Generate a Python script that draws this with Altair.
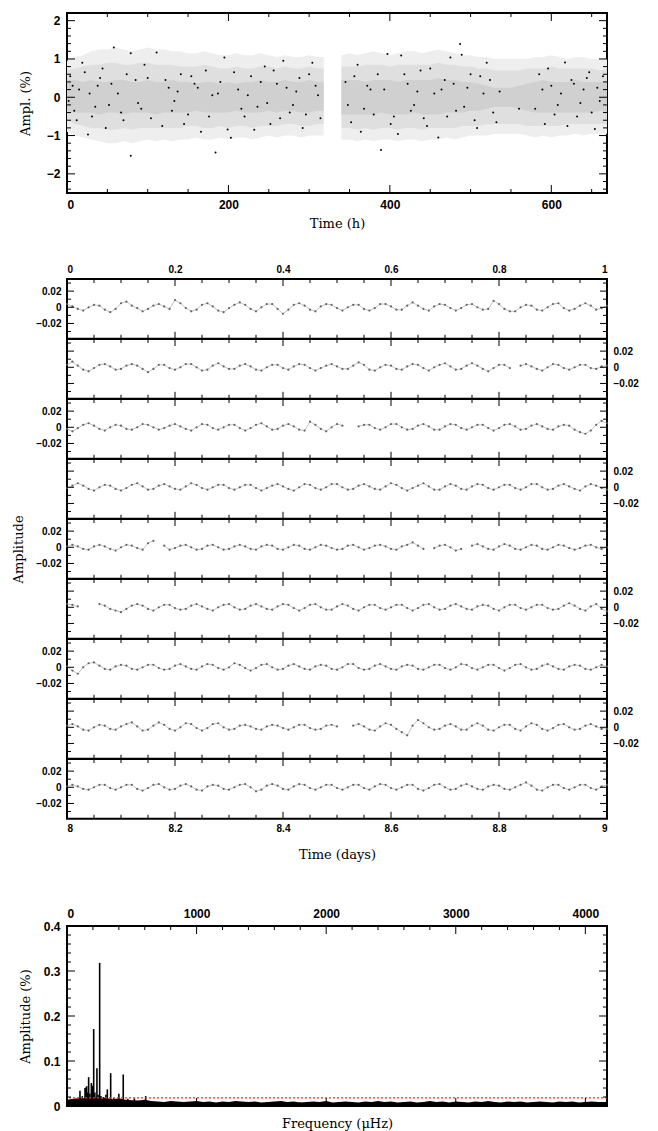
import altair as alt
import pandas as pd

# ---------------- top panel: light curve (hours) ----------------
env_time = list(range(0, 320, 10)) + [318, 329] + list(range(340, 680, 10))
outer_hi = [0.95, 1.05, 1.1, 1.2, 1.25, 1.25, 1.3, 1.25, 1.2, 1.25,
            1.3, 1.25, 1.25, 1.2, 1.2, 1.15, 1.15, 1.2, 1.15, 1.1,
            1.1, 1.15, 1.1, 1.1, 1.15, 1.1, 1.05, 1.1, 1.05, 1.05,
            1.1, 1.05, 1.05, None,
            1.1, 1.15, 1.1, 1.15, 1.2, 1.15, 1.1, 1.15, 1.2, 1.2,
            1.15, 1.2, 1.25, 1.2, 1.15, 1.1, 1.1, 1.05, 1.05, 1.0,
            1.0, 1.0, 1.0, 1.0, 1.05, 1.05, 1.1, 1.05, 1.0, 1.05,
            1.05, 1.0, 1.0, 1.0]
outer_lo = [-0.9, -1.0, -1.05, -1.1, -1.15, -1.2, -1.2, -1.15, -1.2, -1.15,
            -1.1, -1.15, -1.1, -1.15, -1.1, -1.1, -1.05, -1.1, -1.1, -1.05,
            -1.1, -1.05, -1.05, -1.1, -1.05, -1.0, -1.05, -1.0, -1.0, -1.05,
            -1.0, -1.0, -1.0, None,
            -1.1, -1.1, -1.15, -1.1, -1.15, -1.1, -1.1, -1.15, -1.1, -1.1,
            -1.15, -1.1, -1.1, -1.05, -1.1, -1.05, -1.0, -1.0, -1.0, -0.95,
            -0.95, -0.95, -0.95, -1.0, -1.05, -1.0, -1.05, -1.0, -1.0, -0.95,
            -1.0, -0.95, -0.95, -0.95]
mid_hi = [0.7, 0.75, 0.8, 0.85, 0.85, 0.9, 0.9, 0.85, 0.85, 0.9,
          0.9, 0.85, 0.85, 0.85, 0.8, 0.8, 0.8, 0.85, 0.8, 0.75,
          0.75, 0.8, 0.75, 0.75, 0.8, 0.8, 0.75, 0.8, 0.75, 0.75,
          0.8, 0.75, 0.75, None,
          0.8, 0.8, 0.8, 0.85, 0.85, 0.85, 0.8, 0.85, 0.85, 0.85,
          0.85, 0.85, 0.9, 0.85, 0.85, 0.8, 0.8, 0.75, 0.75, 0.7,
          0.7, 0.7, 0.7, 0.75, 0.75, 0.75, 0.8, 0.75, 0.75, 0.75,
          0.75, 0.75, 0.7, 0.75]
mid_lo = [-0.6, -0.7, -0.75, -0.8, -0.8, -0.85, -0.85, -0.8, -0.85, -0.8,
          -0.8, -0.8, -0.8, -0.8, -0.8, -0.75, -0.75, -0.8, -0.8, -0.75,
          -0.8, -0.75, -0.75, -0.8, -0.75, -0.75, -0.75, -0.7, -0.7, -0.75,
          -0.75, -0.7, -0.7, None,
          -0.8, -0.8, -0.85, -0.8, -0.85, -0.8, -0.8, -0.85, -0.8, -0.8,
          -0.85, -0.8, -0.8, -0.8, -0.8, -0.75, -0.75, -0.75, -0.7, -0.7,
          -0.7, -0.7, -0.7, -0.75, -0.75, -0.75, -0.75, -0.75, -0.7, -0.7,
          -0.7, -0.7, -0.7, -0.7]
in_hi = [0.45, 0.45, 0.4, 0.45, 0.4, 0.4, 0.45, 0.45, 0.4, 0.4,
         0.45, 0.4, 0.4, 0.45, 0.4, 0.4, 0.35, 0.4, 0.4, 0.35,
         0.4, 0.35, 0.4, 0.4, 0.45, 0.4, 0.4, 0.45, 0.4, 0.4,
         0.45, 0.4, 0.4, None,
         0.45, 0.45, 0.45, 0.4, 0.45, 0.45, 0.45, 0.4, 0.45, 0.45,
         0.45, 0.45, 0.5, 0.45, 0.45, 0.4, 0.4, 0.35, 0.3, 0.25,
         0.25, 0.25, 0.3, 0.35, 0.4, 0.45, 0.4, 0.4, 0.4, 0.45,
         0.4, 0.4, 0.4, 0.4]
in_lo = [-0.35, -0.4, -0.4, -0.4, -0.45, -0.4, -0.4, -0.45, -0.4, -0.4,
         -0.4, -0.45, -0.4, -0.4, -0.4, -0.4, -0.35, -0.4, -0.4, -0.4,
         -0.4, -0.35, -0.4, -0.4, -0.4, -0.35, -0.4, -0.35, -0.35, -0.4,
         -0.4, -0.35, -0.35, None,
         -0.45, -0.45, -0.45, -0.45, -0.45, -0.4, -0.45, -0.45, -0.45, -0.4,
         -0.45, -0.45, -0.45, -0.4, -0.4, -0.4, -0.35, -0.35, -0.3, -0.25,
         -0.25, -0.25, -0.3, -0.35, -0.4, -0.4, -0.4, -0.4, -0.4, -0.4,
         -0.4, -0.4, -0.35, -0.4]

dot_t = [4, 9, 15, 22, 26, 31, 38, 44, 52, 58,
         63, 70, 79, 79, 85, 92, 100, 111, 118, 126,
         133, 141, 150, 158, 166, 172, 180, 184, 190, 195,
         199, 203, 212, 220, 228, 236, 245, 252, 260, 268,
         276, 284, 292, 300, 308, 314, 345, 352, 360, 368,
         376, 385, 389, 397, 405, 410, 414, 422, 430, 438,
         446, 455, 460, 468, 475, 482, 487, 489, 496, 505,
         512, 520, 528, 536, 560, 585, 592, 600, 608, 617,
         625, 632, 640, 647, 654, 660,
         2, 7, 12, 19, 28, 35, 41, 48, 55, 67,
         74, 88, 96, 104, 122, 130, 137, 145, 154, 162,
         176, 187, 207, 216, 224, 232, 240, 248, 256, 264,
         272, 280, 288, 296, 304, 311, 348, 356, 364, 372,
         380, 393, 401, 418, 426, 434, 442, 450, 464, 471,
         479, 492, 500, 508, 516, 524, 532, 580, 589, 596,
         604, 612, 620, 628, 636, 644, 650, 657, 664]
dot_y = [0.55, -0.35, 0.2, 0.65, -0.97, -0.5, 0.3, 0.75, -0.2, 1.30,
         0.1, -0.6, 1.15, -1.53, 0.45, -0.3, 0.5, 1.17, -0.75, 0.25,
         -0.1, 0.6, -0.45, 0.35, -0.9, 0.7, 0.05, -1.44, 0.4, 1.04,
         -0.84, -1.06, 0.2, -0.5, 0.55, -0.25, 0.8, -0.7, 0.35, 0.95,
         -0.4, 0.15, -0.8, 0.6, 0.3, -0.55, 0.4, -0.65, 0.85, -0.3,
         0.2, 0.6, -1.38, 1.13, -0.5, -0.96, 1.09, 0.35, -0.2, 0.7,
         -0.75, 0.1, -1.05, 0.45, 1.04, -0.35, 1.39, 1.11, 0.25, -0.6,
         0.55, 0.9, -0.4, 0.15, -0.3, 0.6, -0.7, 0.3, -0.2, 0.91,
         0.45, -0.5, 0.2, 0.65, -0.83, -0.1,
         -0.1, 0.3, -0.6, 0.9, 0.1, -0.25, 0.5, -0.8, 0.35, -0.4,
         0.6, -0.15, 0.85, -0.55, 0.45, -0.35, 0.15, -0.7, 0.55, 0.25,
         -0.5, 0.1, 0.65, -0.3, 0.05, -0.85, 0.4, -0.15, 0.7, -0.55,
         0.25, -0.2, 0.5, -0.45, 0.9, 0.05, -0.2, 0.55, -0.9, 0.3,
         -0.45, 0.2, -0.7, 0.6, -0.35, 0.15, -0.55, 0.75, 0.2, -0.5,
         0.35, -0.25, 0.6, -0.8, 0.1, 0.45, -0.65, -0.3, 0.2, 0.75,
         -0.45, 0.1, -0.75, 0.35, -0.15, 0.5, -0.4, 0.25, 0.55]

# ---------------- middle panels: one day per strip (units of 0.001) ----------------
strip_1 = [4, 1, -2, -4, 0, 3, 2, -3, -6, -2, 5, 7, 2, -1, -5, -2, 2, 4, 1, -2,
           9, 5, -1, -5, -3, 3, 5, 1, -4, -6, -1, 3, 6, 3, -2, -5, 0, 4, 4, -2,
           -8, -3, 3, 5, 2, -3, -5, 1, 4, 3, -1, -4, 0, 3, 3, -2, -4, -1, 4, 4,
           1, -3, -3, 2, 6, 2, -2, -4, 1, 4, 3, -1, -4, -1, 3, 4, 0, -3, -2, 8,
           4, -2, -5, -5, 0, 3, 2, -3, -4, 0, 4, 5, -1, -4, -2, 2, 5, 2, -3, -1, 2]
strip_2 = [3, 7, 2, -3, -5, -1, 3, 4, 1, -3, -2, 2, 4, 2, -2, -6, -2, 3, 3, -1,
           -3, 0, 4, 4, 0, -4, -3, 2, 5, 1, -2, -2, 2, 4, 1, -3, -4, 0, 3, 3,
           -1, -3, 1, 4, 3, -1, -4, -1, 2, 4, 1, -2, -2, 2, 6, 3, -3, -4, 0, 3,
           2, -2, -3, 1, 4, 3, -1, -4, 0, 3, 5, 1, -3, -2, 2, 5, 2, -2, -5, -1,
           3, 3, -1, None, 2, 4, 1, -2, -4, 0, 4, 3, -1, -3, 0, 3, 3, -1, -2, 1, 2]
strip_3 = [-2, -5, -1, 3, 5, 2, -2, -4, 0, 3, 2, -2, -3, 0, 4, 3, 0, -3, -1, 2,
           4, 1, -2, -4, 0, 4, 3, -1, -3, 0, 3, 3, -1, -4, -1, 3, 5, 1, -3, -2,
           2, 4, 1, -3, -4, 7, 3, -2, -5, 0, 4, 2, None, None, 1, 3, 3, -1, -3, 0,
           4, 4, 0, -3, -2, 2, 4, 1, -3, -3, 1, 4, 3, -1, -3, 0, 3, 3, -1, -4,
           -1, 3, 4, 1, -3, -2, 2, 4, 1, -2, -3, 1, 3, 2, -3, -6, -8, -4, 3, 8, 5]
strip_4 = [-1, 2, 5, 2, -2, -4, 0, 3, 2, -2, -4, -1, 3, 5, 1, -3, -2, 2, 4, 1,
           -2, -3, 1, 5, 3, -1, -3, 0, 3, 3, -1, -3, 0, 3, 3, -1, -4, -1, 2, 4,
           1, -2, -4, 0, 4, 3, -1, -3, 0, 4, 4, 0, -3, -2, 2, 4, 1, -2, -3, 1,
           5, 3, -1, -4, -1, 2, 5, 1, -3, -3, 1, 4, 2, -2, -3, 1, 4, 3, -1, -3,
           0, 3, 3, -1, -3, 0, 4, 4, 0, -3, -2, 2, 4, 1, -2, -4, 1, 4, 2, -1, -3]
strip_5 = [1, 3, 1, -2, -3, 1, 3, 1, -2, -4, 0, 3, 2, -1, -3, 5, 8, None, 2, -3,
           -1, 2, 3, 0, -3, -2, 2, 3, 0, -3, -2, 1, 3, 1, -2, -3, 1, 3, 2, -2,
           -3, 0, 3, 2, -2, -3, 0, 3, 2, -1, -3, -2, 2, 3, 0, -3, -1, 2, 3, 1,
           -2, -3, 1, 3, 6, 2, -2, None, -1, 2, 3, 0, -4, -2, None, 2, 4, 1, -2, -3,
           1, 4, 2, -2, -3, 0, 3, 2, -2, -3, 0, 3, 2, -1, -3, -1, 2, 3, 0, -2, 0]
strip_6 = [4, 3, 1, None, None, None, 4, 2, -2, -4, -6, -2, 2, 4, 2, -2, -4, 0, 3, 3,
           -1, -3, -2, 2, 4, 1, -2, -4, 0, 3, 4, 0, -3, -2, 2, 4, 1, -2, -3, 1,
           4, 3, -1, -4, -1, 3, 4, 0, -3, -3, 1, 4, 2, -2, -4, 0, 3, 3, -1, -3,
           0, 3, 3, -1, -4, -1, 3, 4, 0, -3, -2, 2, 4, 1, -2, -3, 1, 3, 2, -2,
           -4, 0, 3, 3, -1, -3, 0, 3, 3, -1, -3, -2, 2, 5, 2, -2, -4, 1, 4, -2, -5]
strip_7 = [1, -4, -8, 0, 5, 6, 2, -2, -3, 1, 3, 2, -2, -3, 0, 3, 3, -1, -3, -2,
           2, 4, 1, -2, -3, 1, 4, 3, -1, -3, 0, 5, 3, -1, -4, -1, 3, 4, 0, -3,
           -2, 2, 4, 1, -2, -3, 1, 3, 2, -2, -3, 0, 4, 4, -1, -3, -2, 2, 4, 1,
           -2, -3, 1, 3, 2, -2, -3, 0, 3, 3, -1, -3, 0, 4, 3, -1, -3, 0, 3, 3,
           -1, -4, -1, 3, 4, 0, -3, -2, 2, 4, 1, -2, -3, 1, 3, 2, -2, -3, 0, 3, 1]
strip_8 = [2, 4, 1, -3, -4, 0, 3, 2, -2, -3, 1, 4, 6, 1, -4, -3, 2, 6, 3, -2,
           -4, 0, 5, 4, -1, -4, -1, 4, 5, 0, -3, -2, 2, 3, 1, -2, -3, 1, 3, 2,
           -1, -3, 0, 3, 3, -1, -3, -2, 2, 3, 1, None, None, 2, 4, 1, -3, -4, 1, 5,
           3, -2, -6, -10, 2, 9, 5, 0, -3, -2, 2, 4, 1, -3, -3, 2, 5, 2, -3, -4,
           0, 3, 3, -2, -4, 1, 5, 3, -2, -4, -1, 3, 4, 0, -3, -2, 2, 4, 1, -2, -2]
strip_9 = [1, 3, 1, -2, -3, 0, 3, 3, -1, -3, 0, 3, 3, -2, -4, -1, 3, 4, 0, -3,
           -2, 2, 4, 1, -3, -4, 1, 3, 2, -2, -3, 0, 3, 4, 0, -5, -3, 2, 4, 2,
           -2, -3, 1, 4, 3, -1, -3, 0, 3, 3, -1, -3, 0, 3, 3, -1, -3, 1, 4, 3,
           -1, -3, 0, 3, 3, -2, -4, -1, 3, 4, 0, -3, -2, 2, 4, 1, -2, -3, 1, 3,
           2, -2, -3, 0, 3, 6, 2, -3, -4, 0, 3, 3, -1, -3, 0, 3, 3, -1, -3, 1, 3]
strips = [strip_1, strip_2, strip_3, strip_4, strip_5, strip_6, strip_7, strip_8, strip_9]

# ---------------- bottom panel: amplitude spectrum ----------------
noise_amp = [0.014, 0.016, 0.018, 0.017, 0.019, 0.016, 0.018, 0.015, 0.017, 0.014,
             0.013, 0.012, 0.014, 0.011, 0.010, 0.009, 0.011, 0.010, 0.009, 0.010,
             0.011, 0.009, 0.010, 0.008, 0.010, 0.009, 0.011, 0.010, 0.009, 0.010,
             0.008, 0.009, 0.010, 0.011, 0.009, 0.010, 0.008, 0.009, 0.010, 0.009,
             0.011, 0.008, 0.009, 0.010, 0.009, 0.008, 0.010, 0.009, 0.011, 0.009,
             0.010, 0.008, 0.009, 0.010, 0.008, 0.009, 0.011, 0.009, 0.010, 0.008,
             0.010, 0.009, 0.008, 0.010, 0.009, 0.011, 0.009, 0.008, 0.010, 0.009,
             0.010, 0.008, 0.009, 0.010, 0.009, 0.008, 0.010, 0.009, 0.010, 0.008,
             0.009, 0.010, 0.009, 0.009, 0.010]
peak_freq = [100, 118, 139, 146, 152, 160, 167, 176, 188, 197,
             206, 215, 231, 240, 252, 262, 283, 300, 311, 337,
             360, 400, 434, 470, 520, 607]
peak_amp = [0.034, 0.022, 0.040, 0.041, 0.044, 0.030, 0.064, 0.028, 0.051, 0.045,
            0.171, 0.030, 0.084, 0.025, 0.318, 0.022, 0.020, 0.025, 0.037, 0.073,
            0.018, 0.027, 0.070, 0.016, 0.017, 0.022]
threshold = [0.018]

# ---------------- styling ----------------
W = 540
LF = "Liberation Sans"
TF = "DejaVu Serif"
STRIP_H = 59.8


def seg_frame(xs, cols):
    rows, seg = [], 0
    for i, x in enumerate(xs):
        vals = [c[i] for c in cols.values()]
        if any(v is None for v in vals):
            seg += 1
            continue
        r = {"t": x, "seg": seg}
        r.update({k: c[i] for k, c in cols.items()})
        rows.append(r)
    return pd.DataFrame(rows)


def tick_layers(xscale, yscale, H, xmaj, xmin, ymaj, ymin, lmaj, lmin):
    out = []
    for vals, L in ((xmaj, lmaj), (xmin, lmin)):
        d = pd.DataFrame({"t": vals})
        xe = alt.X("t:Q", scale=xscale, axis=None)
        base = alt.Chart(d).mark_rule(color="black", strokeWidth=1)
        out.append(base.encode(x=xe, y=alt.value(0), y2=alt.value(L)))
        out.append(base.encode(x=xe, y=alt.value(H), y2=alt.value(H - L)))
    for vals, L in ((ymaj, lmaj), (ymin, lmin)):
        d = pd.DataFrame({"v": vals})
        ye = alt.Y("v:Q", scale=yscale, axis=None)
        base = alt.Chart(d).mark_rule(color="black", strokeWidth=1)
        out.append(base.encode(y=ye, x=alt.value(0), x2=alt.value(L)))
        out.append(base.encode(y=ye, x=alt.value(W), x2=alt.value(W - L)))
    return out


def ax(**kw):
    base = dict(ticks=False, domain=False, grid=False, labelFont=LF, labelFontWeight="bold",
                labelColor="black", titleFont=TF, titleFontWeight="normal", titleColor="black",
                titleFontSize=13)
    base.update(kw)
    return alt.Axis(**base)


# ---------- top panel ----------
xs_top = alt.Scale(domain=[0, 669], nice=False, zero=False)
ys_top = alt.Scale(domain=[-2.5, 2.2], nice=False, zero=False)
env = seg_frame(env_time, {"olo": outer_lo, "ohi": outer_hi, "mlo": mid_lo,
                           "mhi": mid_hi, "ilo": in_lo, "ihi": in_hi})
dots = pd.DataFrame({"t": dot_t, "v": dot_y})

top_layers = []
for lo, hi, col, i in (("olo", "ohi", "#eeeeee", 0), ("mlo", "mhi", "#dfdfdf", 1), ("ilo", "ihi", "#d0d0d0", 2)):
    xa = ax(orient="bottom", values=[0, 200, 400, 600], format="d", labelFontSize=12, labelPadding=6,
            title="Time (h)", titleX=270, titleY=30, titleBaseline="middle") if i == 0 else None
    ya = ax(orient="left", values=[-2, -1, 0, 1, 2], format="d", labelFontSize=12, labelPadding=7,
            title="Ampl. (%)", titleX=-42, titleY=90, titleBaseline="middle", titleAngle=-90) if i == 0 else None
    top_layers.append(
        alt.Chart(env).mark_area(color=col, clip=True).encode(
            x=alt.X("t:Q", scale=xs_top, axis=xa),
            y=alt.Y(f"{lo}:Q", scale=ys_top, axis=ya),
            y2=f"{hi}:Q",
            detail="seg:N",
        )
    )
top_layers.append(
    alt.Chart(dots).mark_circle(color="black", size=4, opacity=1).encode(
        x=alt.X("t:Q", scale=xs_top, axis=None), y=alt.Y("v:Q", scale=ys_top, axis=None))
)
top_layers += tick_layers(
    xs_top, ys_top, 180,
    [200, 400, 600], [v for v in range(50, 669, 50) if v % 200],
    [-2, -1, 0, 1, 2], [round(-2.4 + 0.2 * k, 1) for k in range(23) if abs(round(-2.4 + 0.2 * k, 1)) % 1 > 0.01],
    8, 4)
top = alt.layer(*top_layers).properties(width=W, height=180).resolve_axis(x="independent", y="independent")

# ---------- middle strips ----------
xs_mid = alt.Scale(domain=[0, 1], nice=False, zero=False)
ys_mid = alt.Scale(domain=[-0.039, 0.035], nice=False, zero=False)
mid_y_expr = "datum.value == 0 ? '0' : format(datum.value, '.2f')"
mid_top_expr = "datum.value == 0 ? '0' : datum.value == 1 ? '1' : format(datum.value, '.1f')"
mid_bot_expr = "format(datum.value + 8, '~g')"

strip_charts = []
for k, vals in enumerate(strips):
    tt = [i / 100 for i in range(len(vals))]
    vv = [None if a is None else a / 1000 for a in vals]
    d = seg_frame(tt, {"v": vv})
    if k == 0:
        xa = ax(orient="top", values=[0, 0.2, 0.4, 0.6, 0.8, 1], labelExpr=mid_top_expr,
                labelFontSize=10, labelPadding=5, title=None)
    elif k == 8:
        xa = ax(orient="bottom", values=[0, 0.2, 0.4, 0.6, 0.8, 1], labelExpr=mid_bot_expr,
                labelFontSize=10, labelPadding=5, title="Time (days)", titleX=270, titleY=36,
                titleBaseline="middle")
    else:
        xa = None
    ykw = dict(orient="left" if k % 2 == 0 else "right", values=[-0.02, 0, 0.02], labelExpr=mid_y_expr,
               labelFontSize=10, labelPadding=6)
    if k == 4:
        ykw.update(title="Amplitude", titleX=-49, titleY=STRIP_H / 2, titleBaseline="middle", titleAngle=-90)
    else:
        ykw.update(title=None)
    ya = ax(**ykw)
    line = alt.Chart(d).mark_line(color="#a8a8a8", strokeWidth=0.7).encode(
        x=alt.X("t:Q", scale=xs_mid, axis=xa), y=alt.Y("v:Q", scale=ys_mid, axis=ya), detail="seg:N")
    pts = alt.Chart(d).mark_circle(color="#555555", size=5, opacity=0.9).encode(
        x=alt.X("t:Q", scale=xs_mid, axis=None), y=alt.Y("v:Q", scale=ys_mid, axis=None))
    tl = tick_layers(xs_mid, ys_mid, STRIP_H, [0.2, 0.4, 0.6, 0.8],
                     [0.05, 0.1, 0.15, 0.25, 0.3, 0.35, 0.45, 0.5, 0.55, 0.65, 0.7, 0.75, 0.85, 0.9, 0.95],
                     [-0.02, 0, 0.02], [-0.03, -0.01, 0.01, 0.03], 7, 4)
    strip_charts.append(
        alt.layer(line, pts, *tl).properties(width=W, height=STRIP_H).resolve_axis(x="independent", y="independent"))

# ---------- bottom panel ----------
xs_sp = alt.Scale(domain=[0, 4167], nice=False, zero=False)
ys_sp = alt.Scale(domain=[0, 0.4], nice=False, zero=False)
noise = pd.DataFrame({"t": [50 * i for i in range(len(noise_amp))], "v": noise_amp})
peaks = pd.DataFrame({"t": peak_freq, "v": peak_amp})
thr = pd.DataFrame({"v": threshold})
spec_y_expr = "datum.value == 0 ? '0' : format(datum.value, '.1f')"

noise_l = alt.Chart(noise).mark_area(color="black", clip=True).encode(
    x=alt.X("t:Q", scale=xs_sp, axis=ax(orient="top", values=[0, 1000, 2000, 3000, 4000], format="d",
                                         labelFontSize=12, labelPadding=6, title=None)),
    y=alt.Y("v:Q", scale=ys_sp, axis=ax(orient="left", values=[0, 0.1, 0.2, 0.3, 0.4], labelExpr=spec_y_expr,
                                         labelFontSize=12, labelPadding=7, title="Amplitude (%)",
                                         titleX=-42, titleY=90, titleBaseline="middle", titleAngle=-90)),
)
peak_l = alt.Chart(peaks).mark_rule(color="black", strokeWidth=1.6).encode(
    x=alt.X("t:Q", scale=xs_sp, axis=ax(orient="bottom", labels=False, title="Frequency (μHz)",
                                         titleX=270, titleY=17, titleBaseline="middle")),
    y=alt.Y("v:Q", scale=ys_sp, axis=None),
    y2=alt.datum(0),
)
thr_l = alt.Chart(thr).mark_rule(color="#ff2a2a", strokeWidth=1.2, strokeDash=[2, 2]).encode(
    y=alt.Y("v:Q", scale=ys_sp, axis=None))
sp_ticks = tick_layers(xs_sp, ys_sp, 180, [1000, 2000, 3000, 4000],
                       [v for v in range(200, 4167, 200) if v % 1000],
                       [0.1, 0.2, 0.3], [round(0.02 * k, 2) for k in range(1, 20) if k % 5],
                       8, 4)
bottom = alt.layer(noise_l, peak_l, thr_l, *sp_ticks).properties(width=W, height=180).resolve_axis(
    x="independent", y="independent")


def spacer(h):
    return alt.Chart(pd.DataFrame({"a": [0]})).mark_point(opacity=0).encode(
        x=alt.X("a:Q", axis=None), y=alt.Y("a:Q", axis=None)
    ).properties(width=W, height=h, view=alt.ViewBackground(strokeOpacity=0))


chart = alt.vconcat(
    top, spacer(86), *strip_charts, spacer(106.8), bottom, spacing=0, bounds="flush"
).properties(
    padding={"left": 10, "top": 11, "right": 4, "bottom": 2}
).configure_view(stroke="black", strokeWidth=2)

chart.save("out.html", embed_options={"renderer": "svg", "actions": False})
